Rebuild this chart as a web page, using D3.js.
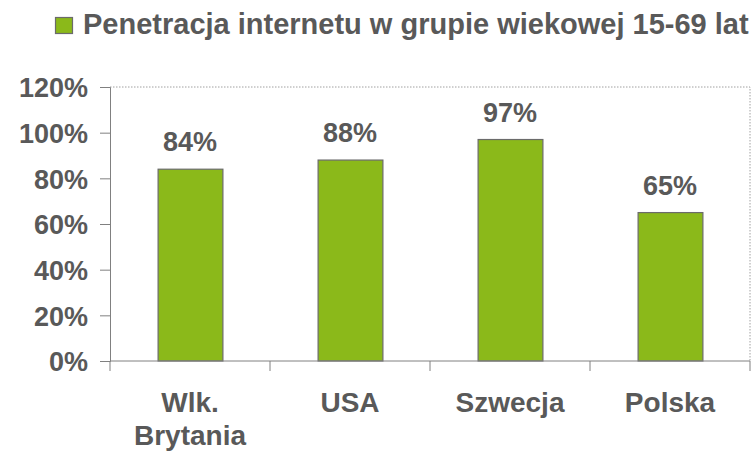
<!DOCTYPE html>
<html><head><meta charset="utf-8">
<script src="https://cdn.jsdelivr.net/npm/d3@7/dist/d3.min.js"></script>
<style>
html,body{margin:0;padding:0;background:#fff;}
svg{display:block;font-family:"Liberation Sans",Arial,sans-serif;font-weight:bold;}
</style></head>
<body><svg id="c" width="754" height="454"></svg>
<script>
const categories = [["Wlk.", "Brytania"], ["USA"], ["Szwecja"], ["Polska"]];
const values = [84, 88, 97, 65];
const valueLabels = ["84%", "88%", "97%", "65%"];
const yTicks = [0, 20, 40, 60, 80, 100, 120];
const seriesName = "Penetracja internetu w grupie wiekowej 15-69 lat";

const textColor = "#595959";
const barColor = "#8BB91A";
const svg = d3.select("#c");
const m = {left:110, right:750, top:87, bottom:361};

const x = d3.scaleBand().domain(d3.range(categories.length)).range([m.left, m.right]).paddingInner(0.595).paddingOuter(0.2975);
const xEdges = d3.scaleLinear().domain([0, categories.length]).range([m.left, m.right]);
const y = d3.scaleLinear().domain([0, 120]).range([m.bottom, m.top]);

// plot border (dotted top/right)
svg.append("path")
  .attr("d", `M${m.left},${m.top}H${m.right}V${m.bottom}`)
  .attr("fill","none").attr("stroke","#a0a0a0").attr("stroke-width",1).attr("stroke-dasharray","1.5,1.5");

// bars
svg.selectAll("rect.bar").data(values).join("rect").attr("class","bar")
  .attr("x",(d,i)=>x(i)+0.5).attr("width",x.bandwidth())
  .attr("y",d=>y(d)).attr("height",d=>m.bottom-y(d))
  .attr("fill",barColor).attr("stroke","#6b6b6b").attr("stroke-width",1.2);

// value labels
svg.selectAll("text.val").data(values).join("text").attr("class","val")
  .attr("x",(d,i)=>x(i)+x.bandwidth()/2).attr("y",d=>y(d)-18)
  .attr("text-anchor","middle").attr("fill",textColor).attr("font-size",27)
  .text((d,i)=>valueLabels[i]);

// y axis
const yAxis = d3.axisLeft(y).tickValues(yTicks).tickFormat(d=>d+"%").tickSize(10).tickPadding(12);
const gy = svg.append("g").attr("transform",`translate(${m.left},0)`).call(yAxis);
gy.select(".domain").attr("stroke","#808080");
gy.selectAll(".tick line").attr("stroke","#808080");
gy.selectAll(".tick text").attr("fill",textColor).attr("font-size",27).attr("font-family","Liberation Sans, Arial, sans-serif").attr("font-weight","bold").attr("dy","0.36em");

// x axis
const gx = svg.append("g").attr("transform",`translate(0,${m.bottom})`);
gx.append("line").attr("x1",m.left).attr("x2",m.right).attr("stroke","#808080");
gx.selectAll("line.tk").data(d3.range(categories.length+1)).join("line").attr("class","tk")
  .attr("x1",d=>xEdges(d)).attr("x2",d=>xEdges(d)).attr("y1",0).attr("y2",10).attr("stroke","#808080");
const cl = gx.selectAll("text.cat").data(categories).join("text").attr("class","cat")
  .attr("x",(d,i)=>x(i)+x.bandwidth()/2).attr("y",51)
  .attr("text-anchor","middle").attr("fill",textColor).attr("font-size",28);
cl.each(function(d,i){
  const t=d3.select(this);
  d.forEach((line,j)=>t.append("tspan").attr("x",x(i)+x.bandwidth()/2).attr("dy",j===0?0:33).text(line));
});

// legend
svg.append("rect").attr("x",55.5).attr("y",17.5).attr("width",17).attr("height",16)
  .attr("fill",barColor).attr("stroke","#6b6b6b").attr("stroke-width",1.2);
svg.append("text").attr("x",83).attr("y",34).attr("fill",textColor).attr("font-size",29).text(seriesName);
</script></body></html>
